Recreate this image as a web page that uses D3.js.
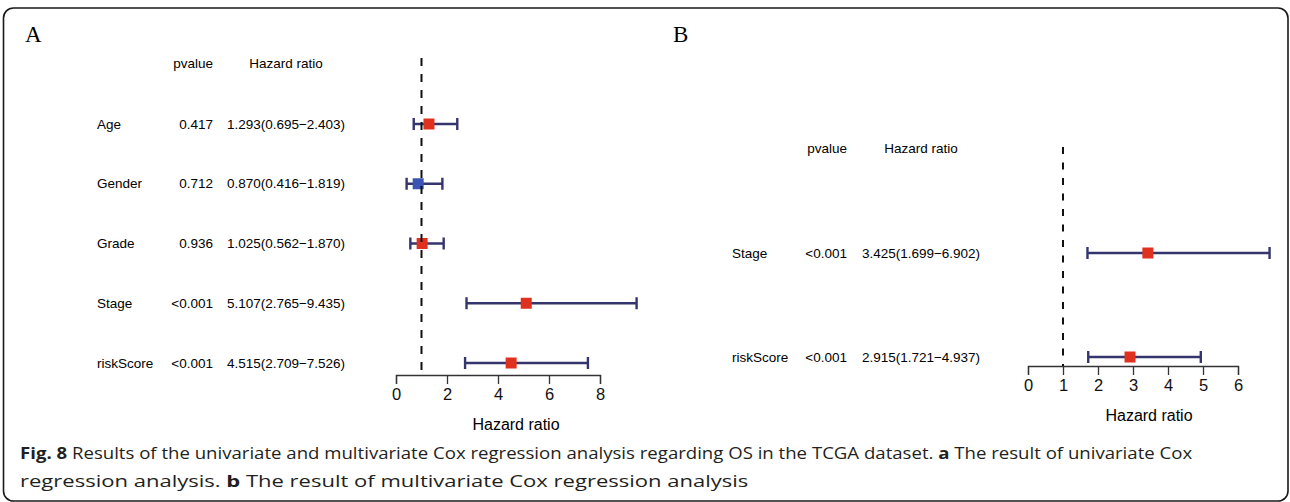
<!DOCTYPE html>
<html>
<head>
<meta charset="utf-8">
<script src="https://cdn.jsdelivr.net/npm/d3@7"></script>
<style>
  body { margin: 0; background: #fff; }
  text { font-family: "Liberation Sans", Arial, sans-serif; }
</style>
</head>
<body>
<script>
// univariate (A)
const varsA  = ["Age", "Gender", "Grade", "Stage", "riskScore"];
const pvalA  = ["0.417", "0.712", "0.936", "<0.001", "<0.001"];
const hrA    = [1.293, 0.870, 1.025, 5.107, 4.515];
const lowA   = [0.695, 0.416, 0.562, 2.765, 2.709];
const highA  = [2.403, 1.819, 1.870, 9.435, 7.526];
const ticksA = [0, 2, 4, 6, 8];

// multivariate (B)
const varsB  = ["Stage", "riskScore"];
const pvalB  = ["<0.001", "<0.001"];
const hrB    = [3.425, 2.915];
const lowB   = [1.699, 1.721];
const highB  = [6.902, 4.937];
const ticksB = [0, 1, 2, 3, 4, 5, 6];

const W = 1290, H = 502;

const svg = d3.select("body").append("svg")
    .attr("width", W)
    .attr("height", H);

// frame
svg.append("rect")
    .attr("x", 3.5).attr("y", 8)
    .attr("width", 1284.5).attr("height", 493)
    .attr("rx", 10).attr("ry", 10)
    .style("fill", "none")
    .style("stroke", "#1a1a1a")
    .style("stroke-width", 1.6);

function rows(vars, pv, hr, lo, hi) {
    return vars.map((v, i) => ({name: v, p: pv[i], hr: hr[i], lo: lo[i], hi: hi[i]}));
}

function forest(cfg) {
    const data = rows(cfg.vars, cfg.pv, cfg.hr, cfg.lo, cfg.hi);
    const x = d3.scaleLinear().domain(cfg.domain).range(cfg.xRange);
    const y = d3.scalePoint().domain(cfg.vars).range(cfg.yRange);
    const g = svg.append("g");

    g.append("text")
        .attr("x", cfg.letterX).attr("y", 42)
        .style("font-family", "'Liberation Serif', 'Times New Roman', serif")
        .style("font-size", "23px")
        .text(cfg.letter);

    // headers
    g.append("text")
        .attr("x", cfg.pX).attr("y", cfg.headY).attr("dy", "0.35em")
        .attr("text-anchor", "end")
        .style("font-size", "13.5px")
        .text("pvalue");
    g.append("text")
        .attr("x", cfg.hrX).attr("y", cfg.headY).attr("dy", "0.35em")
        .attr("text-anchor", "middle")
        .style("font-size", "13.5px")
        .text("Hazard ratio");

    const row = g.selectAll(".row")
        .data(data)
        .enter().append("g")
        .attr("class", "row");

    row.append("text")
        .attr("x", cfg.nameX).attr("y", d => y(d.name)).attr("dy", "0.35em")
        .style("font-size", "13.5px")
        .text(d => d.name);
    row.append("text")
        .attr("x", cfg.pX).attr("y", d => y(d.name)).attr("dy", "0.35em")
        .attr("text-anchor", "end")
        .style("font-size", "13.5px")
        .text(d => d.p);
    row.append("text")
        .attr("x", cfg.hrX).attr("y", d => y(d.name)).attr("dy", "0.35em")
        .attr("text-anchor", "middle")
        .style("font-size", "13.5px")
        .text(d => d.hr.toFixed(3) + "(" + d.lo.toFixed(3) + "\u2212" + d.hi.toFixed(3) + ")");

    // reference line at HR = 1
    g.append("line")
        .attr("x1", x(1)).attr("x2", x(1))
        .attr("y1", cfg.dashTop).attr("y2", cfg.axisY)
        .style("stroke", "#111")
        .style("stroke-width", 2)
        .style("stroke-dasharray", cfg.dash);

    const ci = "#35356e";
    row.append("line")
        .attr("x1", d => x(d.lo)).attr("x2", d => x(d.hi))
        .attr("y1", d => y(d.name)).attr("y2", d => y(d.name))
        .style("stroke", ci).style("stroke-width", 2.4);
    [d => d.lo, d => d.hi].forEach(f => {
        row.append("line")
            .attr("x1", d => x(f(d))).attr("x2", d => x(f(d)))
            .attr("y1", d => y(d.name) - 6).attr("y2", d => y(d.name) + 6)
            .style("stroke", ci).style("stroke-width", 2.4);
    });
    row.append("rect")
        .attr("x", d => x(d.hr) - 5.5).attr("y", d => y(d.name) - 5.5)
        .attr("width", 11).attr("height", 11)
        .style("fill", d => d.hr < 1 ? "#3a55b4" : "#e0301e");

    // axis
    const axis = g.append("g")
        .attr("transform", "translate(0," + cfg.axisY + ")")
        .call(d3.axisBottom(x).tickValues(cfg.ticks).tickSize(9).tickPadding(4).tickFormat(d3.format("d")));
    axis.select(".domain").style("stroke", "#333").style("stroke-width", 1.3);
    axis.selectAll(".tick line").style("stroke", "#333").style("stroke-width", 1.3);
    axis.selectAll(".tick text")
        .style("font-family", "'Liberation Sans', Arial, sans-serif")
        .style("font-size", "16.5px")
        .style("fill", "#111");

    g.append("text")
        .attr("x", (cfg.xRange[0] + cfg.xRange[1]) / 2 + cfg.titleShift)
        .attr("y", cfg.titleY)
        .attr("text-anchor", "middle")
        .style("font-size", "16px")
        .text("Hazard ratio");
}

forest({
    letter: "A", letterX: 25,
    vars: varsA, pv: pvalA, hr: hrA, lo: lowA, hi: highA,
    domain: [0, 8], xRange: [396, 600], ticks: ticksA,
    yRange: [124, 363], axisY: 375, dashTop: 58, dash: "8,8",
    nameX: 97, pX: 213, hrX: 286, headY: 63,
    titleY: 430, titleShift: 18
});

forest({
    letter: "B", letterX: 673,
    vars: varsB, pv: pvalB, hr: hrB, lo: lowB, hi: highB,
    domain: [0, 6], xRange: [1028, 1238], ticks: ticksB,
    yRange: [253, 357], axisY: 366, dashTop: 147, dash: "7,8.5",
    nameX: 732, pX: 847, hrX: 921, headY: 148,
    titleY: 421, titleShift: 16
});

// caption, each line fitted to its width in the reference
const capFont = "'Open Sans', 'Noto Sans', sans-serif";
const lines = [
    [["Fig. 8", true], [" Results of the univariate and multivariate Cox regression analysis regarding OS in the TCGA dataset. ", false], ["a", true], [" The result of univariate Cox", false]],
    [["regression analysis. ", false], ["b", true], [" The result of multivariate Cox regression analysis", false]]
];
const lineWidths = [1173, 729];
lines.forEach((parts, i) => {
    const lg = svg.append("g");
    const t = lg.append("text")
        .attr("x", 0).attr("y", 459 + i * 28)
        .style("font-family", capFont)
        .style("font-size", "15.5px")
        .style("fill", "#231f20");
    parts.forEach(p => {
        t.append("tspan")
            .style("font-weight", p[1] ? "700" : "400")
            .text(p[0]);
    });
    const w = t.node().getComputedTextLength();
    lg.attr("transform", "translate(20,0) scale(" + (lineWidths[i] / w) + ",1)");
});
</script>
</body>
</html>
